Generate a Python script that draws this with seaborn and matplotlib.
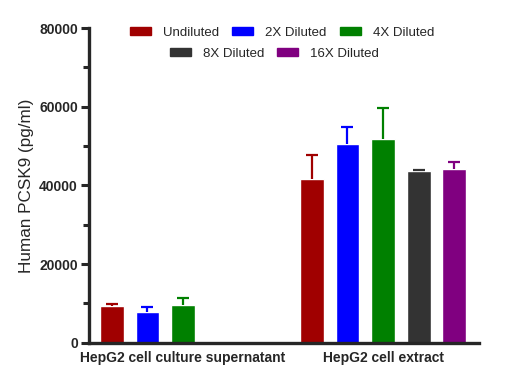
import pandas as pd
import matplotlib
matplotlib.use("Agg")
import matplotlib.pyplot as plt
import seaborn as sns
from matplotlib.patches import Patch
from matplotlib.ticker import MultipleLocator

# --- data ---
samples = ['HepG2 cell culture supernatant', 'HepG2 cell extract']
dilutions = ['Undiluted', '2X Diluted', '4X Diluted', '8X Diluted', '16X Diluted']
colors = ['#A00000', '#0000FF', '#008000', '#333333', '#800080']

super_mean = [9300, 7800, 9600]
super_err = [450, 1350, 1850]
extract_mean = [41600, 50500, 51800, 43600, 44100]
extract_err = [6100, 4300, 7900, 300, 1900]

rows = []
for d, m, e in zip(dilutions[:3], super_mean, super_err):
    rows.append([samples[0], d, m, e])
for d, m, e in zip(dilutions, extract_mean, extract_err):
    rows.append([samples[1], d, m, e])
df = pd.DataFrame(rows, columns=['Sample', 'Dilution', 'Mean', 'SD'])

sns.set_theme(style="ticks")
plt.rcParams['font.family'] = ['Liberation Sans', 'DejaVu Sans']

fig = plt.figure(figsize=(5.3, 3.8), dpi=100)
ax = fig.add_axes([0.168, 0.098, 0.736, 0.828])

pal = dict(zip(dilutions, colors))
sns.barplot(data=df, x='Sample', y='Mean', hue='Dilution', order=samples,
            hue_order=dilutions, palette=pal, errorbar=None, width=0.89,
            gap=0.33, saturation=1, legend=False, ax=ax)

# upper-only error bars, matched by bar height
err_of = {r.Mean: (r.SD, pal[r.Dilution]) for r in df.itertuples()}
for p in list(ax.patches):
    h = p.get_height()
    if h in err_of:
        e, c = err_of[h]
        eb = ax.errorbar(p.get_x() + p.get_width() / 2, h, yerr=[[0], [e]], fmt='none',
                         ecolor=c, elinewidth=1.6, capsize=4.3, capthick=1.6, zorder=1)
        for cl in eb[1]:
            if cl.get_ydata()[0] <= h:
                cl.set_visible(False)

ax.set_xlim(-0.47, 1.48)
ax.set_ylim(0, 80000)
ax.yaxis.set_major_locator(MultipleLocator(20000))
ax.yaxis.set_minor_locator(MultipleLocator(10000))
ax.set_xlabel('')
ax.set_ylabel('Human PCSK9 (pg/ml)', fontsize=12.3, labelpad=4)
sns.despine(ax=ax)
for s in ['left', 'bottom']:
    ax.spines[s].set_linewidth(2.4)
ax.tick_params(axis='y', which='major', length=6, width=2.2, labelsize=10, pad=2)
ax.tick_params(axis='y', which='minor', length=4, width=2.2)
ax.tick_params(axis='x', length=0, labelsize=10, pad=6)
for t in ax.get_xticklabels() + ax.get_yticklabels():
    t.set_fontweight('bold')

# two-row centred legend
h1 = [Patch(color=c) for c in colors[:3]]
h2 = [Patch(color=c) for c in colors[3:]]
kw = dict(frameon=False, fontsize=9.5, handlelength=1.6, handleheight=0.55,
          handletextpad=0.9, columnspacing=1.0, borderaxespad=0)
leg1 = ax.legend(h1, dilutions[:3], ncol=3, loc='center', bbox_to_anchor=(0.495, 0.985), **kw)
ax.add_artist(leg1)
ax.legend(h2, dilutions[3:], ncol=2, loc='center', bbox_to_anchor=(0.475, 0.918), **kw)

fig.savefig('out.png', dpi=100)
